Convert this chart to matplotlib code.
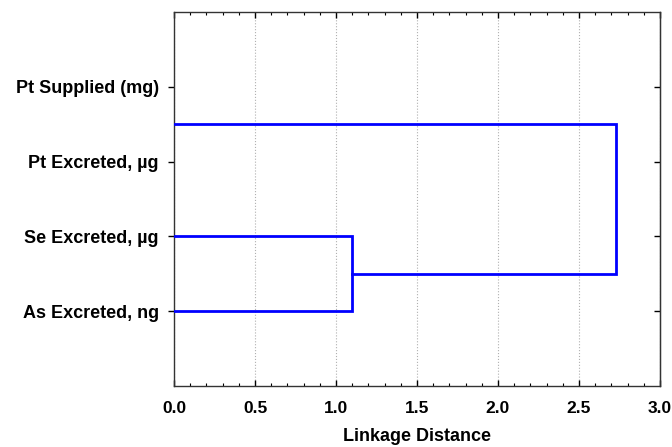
import matplotlib.pyplot as plt
from matplotlib.ticker import MultipleLocator

plt.rcParams['font.family'] = ['Liberation Sans', 'DejaVu Sans']
plt.rcParams['font.weight'] = 'bold'

# leaves, top to bottom
labels = ["Pt Supplied (mg)", "Pt Excreted, \u00b5g", "Se Excreted, \u00b5g", "As Excreted, ng"]
# merges: (cluster a, cluster b, linkage distance); new clusters get ids 4, 5, ...
merges = [(0, 1, 0.0), (2, 3, 1.10), (4, 5, 2.73)]

fig = plt.figure(figsize=(6.72, 4.47), dpi=100)
ax = fig.add_axes([174 / 672, 1 - 386 / 447, 486 / 672, 374 / 447])

pos = {i: i + 1 for i in range(len(labels))}
height = {i: 0.0 for i in range(len(labels))}
nid = len(labels)
for a, b, h in merges:
    ya, yb = pos[a], pos[b]
    if h > 0:
        ax.plot([height[a], h, h, height[b]], [ya, ya, yb, yb],
                color='#0000ff', lw=2.0, solid_joinstyle='miter', zorder=3)
    pos[nid] = (ya + yb) / 2
    height[nid] = h
    nid += 1

ax.set_xlim(0, 3.0)
ax.set_ylim(len(labels) + 1, 0)
ax.set_yticks(range(1, len(labels) + 1))
ax.set_yticklabels(labels, fontsize=13, fontweight='bold')
ax.xaxis.set_major_locator(MultipleLocator(0.5))
ax.xaxis.set_minor_locator(MultipleLocator(0.1))
ax.xaxis.set_major_formatter(plt.FuncFormatter(lambda v, p: f"{v:.1f}"))
ax.tick_params(axis='x', which='major', labelsize=12.5, direction='in', top=True, length=4, width=1, pad=11)
ax.tick_params(axis='x', which='minor', direction='in', top=True, length=2.5, width=0.8)
ax.tick_params(axis='y', which='major', direction='out', length=4, width=1, pad=7)
ax.grid(axis='x', which='major', color='#b0b0b0', linestyle=':', lw=0.8)
ax.set_xlabel("Linkage Distance", fontsize=13, fontweight='bold', labelpad=8.5)

sec = ax.secondary_yaxis('right')
sec.set_yticks(range(1, len(labels) + 1))
sec.tick_params(direction='in', length=4, width=1, labelright=False)

for s in ax.spines.values():
    s.set_color('#333333')
    s.set_linewidth(1.0)

fig.savefig("out.png", dpi=100)
